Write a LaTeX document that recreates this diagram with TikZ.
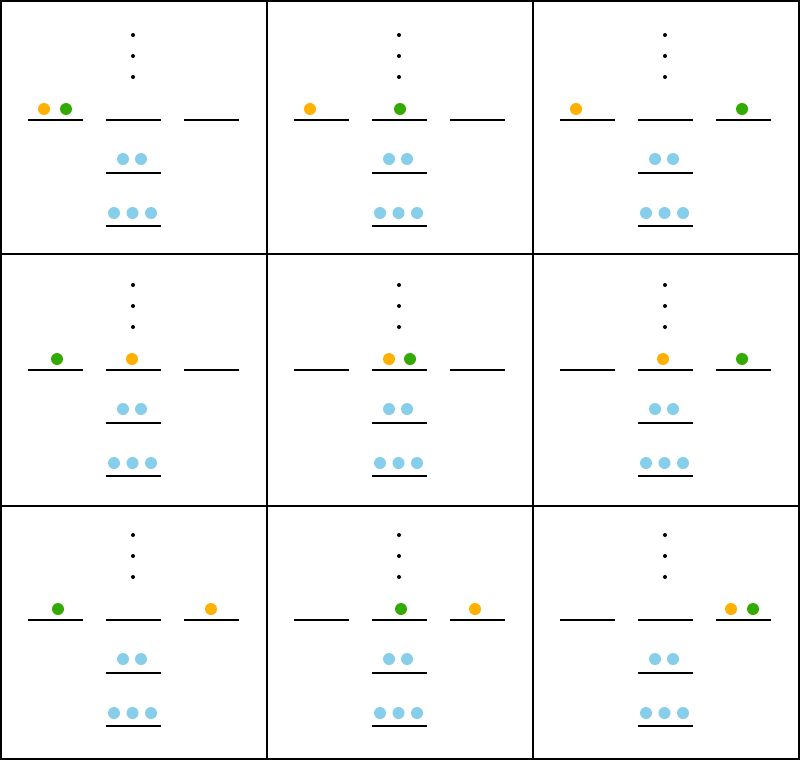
\documentclass[tikz,border=0pt]{standalone}
\definecolor{cOrange}{HTML}{FFB000}
\definecolor{cGreen}{HTML}{33AA00}
\definecolor{cBlue}{HTML}{87CEEB}
\tikzset{
  level/.style={line width=1.6pt, draw=black},
  frame/.style={line width=1.6pt, draw=black},
  ball/.style={radius=6pt},
  vdot/.style={fill=black, radius=2pt},
}
\begin{document}
\begin{tikzpicture}[x=1pt,y=-1pt]
\useasboundingbox (0,0) rectangle (800,760);
\fill[white] (0,0) rectangle (800,760);
% panels: column, row, orange x, green x
\foreach \c/\r/\ox/\gx in {0/0/44/66, 1/0/44/134, 2/0/44/210,
                           0/1/132/57, 1/1/123/144, 2/1/131/210,
                           0/2/211/58, 1/2/209/135, 2/2/199/221}{
  \begin{scope}[shift={(266*\c,250*\r)}]
    % dots
    \foreach \yy in {35,56,77} \fill[vdot] (133,\yy) circle[radius=2pt];
    % three levels
    \draw[level] (28,120) -- (83,120);
    \draw[level] (106,120) -- (161,120);
    \draw[level] (184,120) -- (239,120);
    \draw[level] (106,173) -- (161,173);
    \draw[level] (106,226) -- (161,226);
    % balls
    \fill[cOrange] (\ox,109) circle[radius=6pt];
    \fill[cGreen] (\gx,109) circle[radius=6pt];
    \foreach \xx in {123,141} \fill[cBlue] (\xx,159) circle[radius=6pt];
    \foreach \xx in {114,132.5,151} \fill[cBlue] (\xx,213) circle[radius=6pt];
  \end{scope}
}
% frame
\draw[frame] (1,1) rectangle (799,759);
\draw[frame] (267,0) -- (267,760);
\draw[frame] (533,0) -- (533,760);
\draw[frame] (0,254) -- (800,254);
\draw[frame] (0,506) -- (800,506);
\end{tikzpicture}
\end{document}
